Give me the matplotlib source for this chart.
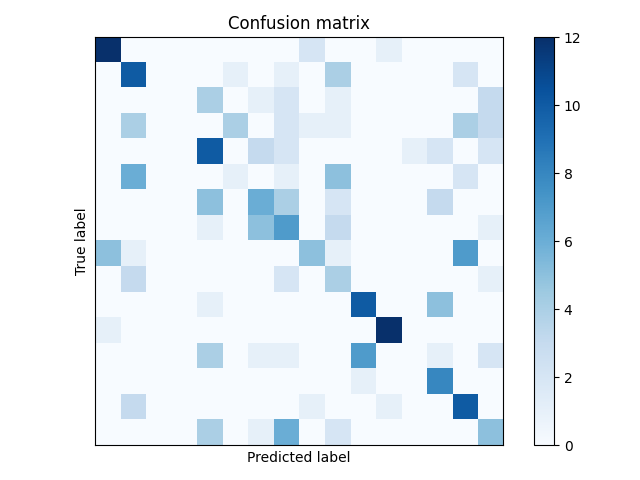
import numpy as np
import matplotlib
matplotlib.use("Agg")
import matplotlib.pyplot as plt

n = 16
# (row, col, value)
entries = [
    (0, 0, 12), (0, 8, 2), (0, 11, 1),
    (1, 1, 10), (1, 5, 1), (1, 7, 1), (1, 9, 4), (1, 14, 2),
    (2, 4, 4), (2, 6, 1), (2, 7, 2), (2, 9, 1), (2, 15, 3),
    (3, 1, 4), (3, 5, 4), (3, 7, 2), (3, 8, 1), (3, 9, 1), (3, 14, 4), (3, 15, 3),
    (4, 4, 10), (4, 6, 3), (4, 7, 2), (4, 12, 1), (4, 13, 2), (4, 15, 2),
    (5, 1, 6), (5, 5, 1), (5, 7, 1), (5, 9, 5), (5, 14, 2),
    (6, 4, 5), (6, 6, 6), (6, 7, 4), (6, 9, 2), (6, 13, 3),
    (7, 4, 1), (7, 6, 5), (7, 7, 7), (7, 9, 3), (7, 15, 1),
    (8, 0, 5), (8, 1, 1), (8, 8, 5), (8, 9, 1), (8, 14, 7),
    (9, 1, 3), (9, 7, 2), (9, 9, 4), (9, 15, 1),
    (10, 4, 1), (10, 10, 10), (10, 13, 5),
    (11, 0, 1), (11, 11, 12),
    (12, 4, 4), (12, 6, 1), (12, 7, 1), (12, 10, 7), (12, 13, 1), (12, 15, 2),
    (13, 10, 1), (13, 13, 8),
    (14, 1, 3), (14, 8, 1), (14, 11, 1), (14, 14, 10),
    (15, 4, 4), (15, 6, 1), (15, 7, 6), (15, 9, 2), (15, 15, 5),
]

cm = np.zeros((n, n))
for r, c, v in entries:
    cm[r, c] = v

fig = plt.figure(figsize=(6.4, 4.8))
plt.imshow(cm, interpolation="nearest", cmap=plt.cm.Blues)
plt.title("Confusion matrix")
plt.colorbar()
plt.xticks([])
plt.yticks([])
plt.ylabel("True label")
plt.xlabel("Predicted label")
plt.tight_layout()
plt.savefig("out.png")
